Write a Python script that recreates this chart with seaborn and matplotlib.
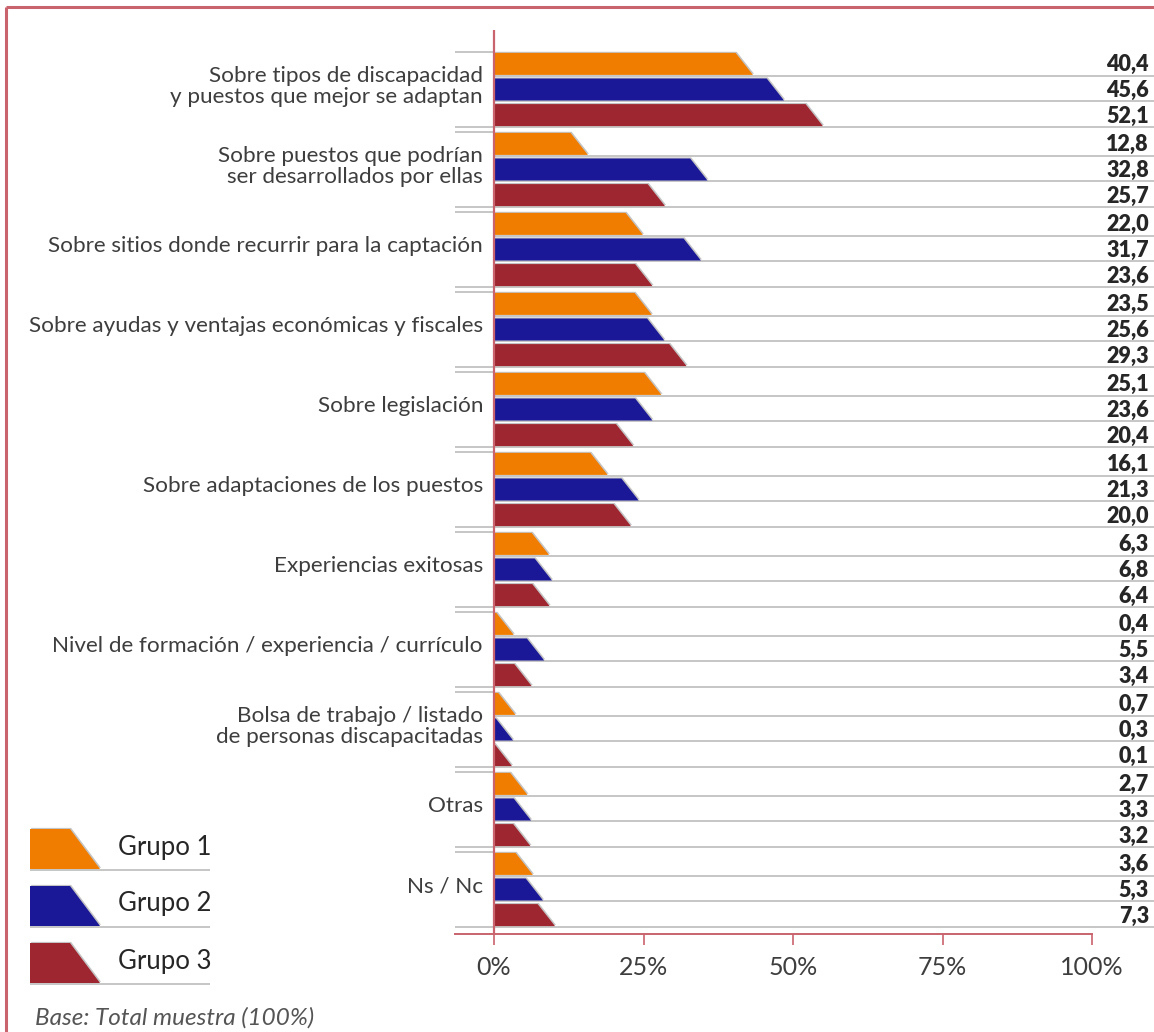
import matplotlib
matplotlib.use("Agg")
import matplotlib.pyplot as plt
import matplotlib.patheffects as pe
from matplotlib.patches import Polygon
import numpy as np
import pandas as pd
import seaborn as sns

# ---- data -------------------------------------------------------------
temas = [
    "Sobre tipos de discapacidad\ny puestos que mejor se adaptan",
    "Sobre puestos que podrían\nser desarrollados por ellas",
    "Sobre sitios donde recurrir para la captación",
    "Sobre ayudas y ventajas económicas y fiscales",
    "Sobre legislación",
    "Sobre adaptaciones de los puestos",
    "Experiencias exitosas",
    "Nivel de formación / experiencia / currículo",
    "Bolsa de trabajo / listado\nde personas discapacitadas",
    "Otras",
    "Ns / Nc",
]
grupos = ["Grupo 1", "Grupo 2", "Grupo 3"]
grupo1 = [40.4, 12.8, 22.0, 23.5, 25.1, 16.1, 6.3, 0.4, 0.7, 2.7, 3.6]
grupo2 = [45.6, 32.8, 31.7, 25.6, 23.6, 21.3, 6.8, 5.5, 0.3, 3.3, 5.3]
grupo3 = [52.1, 25.7, 23.6, 29.3, 20.4, 20.0, 6.4, 3.4, 0.1, 3.2, 7.3]
ticks = [0, 25, 50, 75, 100]
tick_labels = ["0%", "25%", "50%", "75%", "100%"]
nota = "Base: Total muestra (100%)"

colores = ["#F07D00", "#1A1896", "#9E2630"]
rojo_eje = "#C9646E"
gris_linea = "#C6C6C6"
texto = "#3E3E3E"

df = pd.DataFrame({
    "tema": temas * 3,
    "grupo": sum([[g] * len(temas) for g in grupos], []),
    "valor": grupo1 + grupo2 + grupo3,
})

# ---- figure & axes ----------------------------------------------------
W, H = 1154, 1032
sns.set_theme(style="white")
plt.rcParams["font.family"] = ["Lato", "DejaVu Sans"]

fig = plt.figure(figsize=(W / 100, H / 100), dpi=100)

x0_px, x100_px = 494, 1092
px_per_unit = (x100_px - x0_px) / 100.0
ax_left_px, ax_right_px, ax_top_px, ax_bot_px = 455, 1154, 30, 934
ax = fig.add_axes([ax_left_px / W, 1 - ax_bot_px / H,
                   (ax_right_px - ax_left_px) / W, (ax_bot_px - ax_top_px) / H])

sns.barplot(data=df, y="tema", x="valor", hue="grupo", orient="h",
            palette=colores, saturation=1, width=0.96, gap=0.14,
            errorbar=None, legend=False, ax=ax)

xmin = (ax_left_px - x0_px) / px_per_unit
xmax = (ax_right_px - x0_px) / px_per_unit
ax.set_xlim(xmin, xmax)
pitch = 80.0
c0 = 89.5
ax.set_ylim((ax_bot_px - c0) / pitch, (ax_top_px - c0) / pitch)

slant = 2.9  # extra length of the bottom edge, in axis units
shadow = [pe.SimplePatchShadow(offset=(0.8, 0.8), shadow_rgbFace="#C4C4C4", alpha=1.0),
          pe.Normal()]

rgb_pal = np.array([matplotlib.colors.to_rgb(c) for c in colores])
bars = []
for p in list(ax.patches):
    fc = np.array(p.get_facecolor()[:3])
    hue_idx = int(np.argmin(((rgb_pal - fc) ** 2).sum(axis=1)))
    v = p.get_width()
    ytop = p.get_y()
    ybot = p.get_y() + p.get_height()
    bars.append((hue_idx, v, ytop, ybot))
    p.remove()

for hue_idx, v, ytop, ybot in bars:
    line_y = ybot + 0.012
    start = xmin if hue_idx == 2 else 0
    ax.plot([start, xmax], [line_y, line_y], color=gris_linea, lw=1.4,
            solid_capstyle="butt", zorder=1, clip_on=False)
    if hue_idx == 0:
        ax.plot([xmin, 0], [ytop - 0.012, ytop - 0.012], color=gris_linea, lw=1.4,
                solid_capstyle="butt", zorder=1)
    poly = Polygon([(0, ytop), (v, ytop), (v + slant, ybot), (0, ybot)],
                   closed=True, facecolor=colores[hue_idx], edgecolor="none",
                   zorder=3)
    poly.set_path_effects(shadow)
    ax.add_patch(poly)
    ax.text(xmax - 5 / px_per_unit, ybot - 0.045, f"{v:.1f}".replace(".", ","),
            ha="right", va="baseline", fontsize=15.5, fontweight="heavy",
            color="#262626", zorder=5)

# category labels
for i, t in enumerate(temas):
    ax.text(-11 / px_per_unit, i - 0.04, t, ha="right", va="center",
            fontsize=16.2, fontweight="normal", color=texto,
            linespacing=1.1, clip_on=False)

# zero line
ax.axvline(0, color=rojo_eje, lw=1.6, zorder=4)

# axes styling
ax.set_yticks([])
ax.set_ylabel("")
ax.set_xlabel("")
ax.set_xticks(ticks)
ax.set_xticklabels(tick_labels, fontsize=18, fontweight="normal", color=texto)
ax.tick_params(axis="x", direction="out", length=8, width=1.2, color=rojo_eje,
               pad=8, bottom=True)
for s in ["top", "right", "left"]:
    ax.spines[s].set_visible(False)
ax.spines["bottom"].set_color(rojo_eje)
ax.spines["bottom"].set_linewidth(1.4)
ax.spines["bottom"].set_bounds(xmin, 100)
ax.patch.set_alpha(0)

# ---- overlay for frame, legend and note (pixel coordinates) ----------
ov = fig.add_axes([0, 0, 1, 1], zorder=-1)
ov.set_xlim(0, W)
ov.set_ylim(H, 0)
ov.axis("off")

ov.plot([6, W], [7, 7], color=rojo_eje, lw=2.2, solid_capstyle="butt")
ov.plot([6, 6], [7, H], color=rojo_eje, lw=2.2, solid_capstyle="butt")

leg_tops = [829, 886, 943]
for k, (g, c) in enumerate(zip(grupos, colores)):
    yt = leg_tops[k]
    yb = yt + 40
    sw = Polygon([(30, yt), (70, yt), (100, yb), (30, yb)], closed=True,
                 facecolor=c, edgecolor="none", zorder=3)
    sw.set_path_effects([pe.SimplePatchShadow(offset=(0.8, 0.8),
                                              shadow_rgbFace="#C4C4C4", alpha=1.0),
                         pe.Normal()])
    ov.add_patch(sw)
    ov.plot([30, 210], [yb + 1, yb + 1], color=gris_linea, lw=1.4,
            solid_capstyle="butt", zorder=1)
    ov.text(118, yt + 18, g, ha="left", va="center", fontsize=18.5,
            color="#262626")

ov.text(35, 1029, nota, ha="left", va="bottom", fontsize=17.5,
        fontstyle="italic", color="#555555")

fig.savefig("out.png", dpi=100)
